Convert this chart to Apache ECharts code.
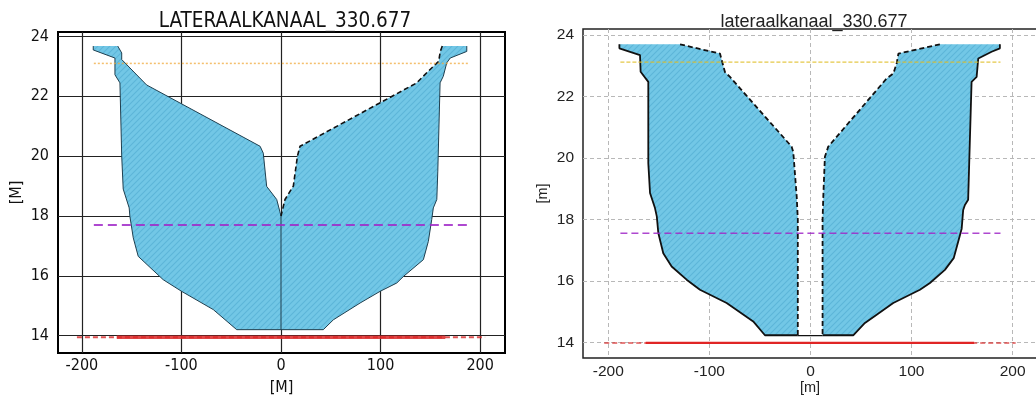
<!DOCTYPE html>
<html>
<head>
<meta charset="utf-8">
<script src="https://cdn.jsdelivr.net/npm/echarts@6/dist/echarts.min.js"></script>
<style>
  html, body { margin: 0; padding: 0; background: #fff; }
  #chart { width: 1036px; height: 398px; }
</style>
</head>
<body>
<div id="chart"></div>
<script>
// ---- left panel (A): LATERAALKANAAL, one channel that closes at x=0 ----
const aLeftOuter = [[-188.6, 23.68], [-188.6, 23.55], [-166.8, 23.28], [-166.8, 22.72], [-161.8, 22.45],
  [-160, 20.0], [-158.5, 18.9], [-152.5, 18.27], [-151.8, 17.99], [-148.4, 17.27], [-143.4, 16.65],
  [-118.3, 15.87], [-99.8, 15.48], [-68, 14.87], [-44.5, 14.2], [0, 14.2]]
const aLeftInner = [[-164, 23.68], [-160, 23.45], [-160, 23.23], [-135, 22.38], [-21, 20.33],
  [-17.8, 20.1], [-14.4, 18.99], [-4.3, 18.55], [0, 18.0], [0, 14.2]]
const aRightOuter = [[186.6, 23.68], [186.6, 23.5], [170, 23.28], [166.5, 23.12], [163, 22.67],
  [159.8, 22.45], [157.5, 19.5], [156.5, 18.55], [153, 18.27], [151.4, 17.88], [148, 17.15],
  [143, 16.54], [123, 15.98], [116.3, 15.76], [99.5, 15.48], [79.4, 15.09], [52.6, 14.53],
  [42.5, 14.2], [0, 14.2]]
const aRightInner = [[162, 23.68], [160, 23.5], [158.4, 23.17], [146.4, 22.79], [136.4, 22.45],
  [19.1, 20.33], [16.5, 20.0], [12.4, 19.0], [4, 18.55], [0, 18.0]]
const aTopLevel = 23.1, aMidLevel = 17.7, aBedLevel = 13.95
const aTopSpan = [-188, 188], aMidSpan = [-188, 188], aBedSolid = [-165, 165], aBedDash = [-205, 205]

// ---- right panel (B): lateraalkanaal, two halves with a slot in the middle ----
const bLeftOuter = [[-189, 23.7], [-189, 23.57], [-168.6, 23.35], [-168, 22.81], [-160.4, 22.48],
  [-160.4, 19.83], [-158.7, 18.86], [-153.8, 18.37], [-152, 18.1], [-150.5, 17.56], [-145.6, 16.9],
  [-137.3, 16.47], [-122.5, 16.04], [-109.3, 15.71], [-82.9, 15.28], [-56.6, 14.68], [-45, 14.23],
  [-12.5, 14.23]]
const bLeftInner = [[-129, 23.7], [-89.5, 23.4], [-84.6, 22.8], [-79.6, 22.64], [-18.6, 20.37],
  [-17, 20.2], [-13.6, 18.75], [-12.5, 18.0], [-12.5, 14.23]]
const bRightOuter = [[187.4, 23.7], [187.4, 23.57], [179.2, 23.46], [166, 23.24], [164.4, 22.64],
  [159.4, 22.48], [156, 18.64], [152.8, 18.47], [151.1, 18.31], [149.6, 17.7], [146.2, 17.28],
  [141.7, 16.74], [133, 16.36], [118.2, 15.93], [108.3, 15.71], [81.9, 15.28], [65.5, 14.9],
  [53.9, 14.63], [42.3, 14.23], [12, 14.23]]
const bRightInner = [[128, 23.7], [87, 23.4], [85.3, 23.08], [82, 22.75], [75.4, 22.59],
  [17.6, 20.37], [14.3, 20.04], [12.7, 18.74], [12, 18.0], [12, 14.23]]
const bSlotFloor = [[-12.5, 14.22], [12, 14.22]]
const bTopLevel = 23.12, bMidLevel = 17.55, bBedLevel = 13.98
const bTopSpan = [-188, 188], bMidSpan = [-188, 188], bBedSolid = [-163, 162], bBedDash = [-204, 203]

// hatch fill like matplotlib '////'
function hatch(base, stripe) {
    const c = document.createElement('canvas')
    c.width = 6; c.height = 6
    const g = c.getContext('2d')
    g.fillStyle = base
    g.fillRect(0, 0, 6, 6)
    g.strokeStyle = stripe
    g.lineWidth = 1.1
    g.beginPath()
    g.moveTo(-1, 7); g.lineTo(7, -1)
    g.moveTo(-1, 1); g.lineTo(1, -1)
    g.moveTo(5, 7); g.lineTo(7, 5)
    g.stroke()
    return c
}
const fillPattern = { image: hatch('#72c7e6', '#5db5d9'), repeat: 'repeat' }

function polygonSeries(outer, inner, gi) {
    // outer runs top -> bottom centre, inner is walked back up to close along the top
    const pts = outer.concat(inner.slice().reverse())
    return {
        type: 'custom', xAxisIndex: gi, yAxisIndex: gi, silent: true, z: 1,
        data: [[0, 0]],
        renderItem: function (params, api) {
            return {
                type: 'polygon',
                shape: { points: pts.map(function (p) { return api.coord(p) }) },
                style: { fill: fillPattern, stroke: null }
            }
        }
    }
}

// outlines and level lines go on their own layer, above the fill
function line(data, gi, color, width, type) {
    return {
        type: 'line', xAxisIndex: gi, yAxisIndex: gi, data: data, symbol: 'none', silent: true,
        zlevel: 1, lineStyle: { color: color, width: width, type: type }
    }
}
function level(span, y, gi, color, width, type) {
    return line([[span[0], y], [span[1], y]], gi, color, width, type)
}

const fontA = '"DejaVu Sans Condensed", "Roboto", sans-serif'
const fontB = '"Liberation Sans", Arial, sans-serif'

const gridA = { color: '#222', width: 1.2 }
const gridB = { color: '#b8b8b8', width: 1, type: [4, 3] }

const option = {
    animation: false,
    title: [
        { text: 'LATERAALKANAAL_330.677', left: 280, top: 6, textAlign: 'center',
          textStyle: { fontFamily: fontA, fontSize: 20.5, fontWeight: 'normal', color: '#111' } },
        { text: 'lateraalkanaal_330.677', left: 809, top: 8, textAlign: 'center',
          textStyle: { fontFamily: fontB, fontSize: 18, fontWeight: 'normal', color: '#222' } }
    ],
    grid: [
        { left: 58, top: 32, width: 447, height: 321, outerBoundsMode: 'none', containLabel: false,
          show: true, borderColor: '#000', borderWidth: 2, backgroundColor: '#fff' },
        // the right panel runs past the picture edge, as in the source image
        { left: 583, top: 29, width: 465, height: 329, outerBoundsMode: 'none', containLabel: false,
          show: true, borderColor: '#222', borderWidth: 1.5, backgroundColor: '#fff' }
    ],
    xAxis: [
        { type: 'value', gridIndex: 0, min: -224, max: 225, splitNumber: 5,
          name: '[M]', nameLocation: 'middle', nameGap: 27,
          nameTextStyle: { fontFamily: fontA, fontSize: 16, color: '#111' },
          axisLine: { show: false }, axisTick: { show: false },
          axisLabel: { fontFamily: fontA, fontSize: 16, color: '#111', margin: 5, showMinLabel: false, showMaxLabel: false },
          splitLine: { showMinLine: false, showMaxLine: false, lineStyle: gridA } },
        { type: 'value', gridIndex: 1, min: -225, max: 235, splitNumber: 5,
          name: '[m]', nameLocation: 'start', nameGap: -227, nameTextStyle: { fontFamily: fontB, fontSize: 14.5, color: '#222',
          align: 'center', verticalAlign: 'top', padding: [22, 0, 0, 0] },
          axisLine: { show: false }, axisTick: { show: false },
          axisLabel: { fontFamily: fontB, fontSize: 15.5, color: '#222', margin: 6, showMinLabel: false, showMaxLabel: false },
          splitLine: { showMinLine: false, showMaxLine: false, lineStyle: gridB } }
    ],
    yAxis: [
        { type: 'value', gridIndex: 0, min: 13.42, max: 24.15, splitNumber: 5,
          name: '[M]', nameLocation: 'middle', nameGap: 33, nameRotate: 90,
          nameTextStyle: { fontFamily: fontA, fontSize: 16, color: '#111' },
          axisLine: { show: false }, axisTick: { show: false },
          axisLabel: { fontFamily: fontA, fontSize: 16, color: '#111', margin: 9, showMinLabel: false, showMaxLabel: false },
          splitLine: { showMinLine: false, showMaxLine: false, lineStyle: gridA } },
        { type: 'value', gridIndex: 1, min: 13.49, max: 24.2, splitNumber: 5,
          name: '[m]', nameLocation: 'middle', nameGap: 33, nameRotate: 90,
          nameTextStyle: { fontFamily: fontB, fontSize: 14.5, color: '#222' },
          axisLine: { show: false }, axisTick: { show: false },
          axisLabel: { fontFamily: fontB, fontSize: 15.5, color: '#222', margin: 9, showMinLabel: false, showMaxLabel: false },
          splitLine: { showMinLine: false, showMaxLine: false, lineStyle: gridB } }
    ],
    series: [
        // left panel
        polygonSeries(aLeftOuter, aLeftInner, 0),
        polygonSeries(aRightOuter, aRightInner, 0),
        line(aLeftOuter, 0, '#1f3f4f', 1, 'solid'),
        line(aLeftInner, 0, '#1f3f4f', 1, 'solid'),
        line(aRightOuter, 0, '#1f3f4f', 1, 'solid'),
        line(aRightInner, 0, '#111', 1.6, [5, 3]),
        level(aTopSpan, aTopLevel, 0, 'rgba(240,170,60,0.75)', 1.5, [2, 2]),
        level(aMidSpan, aMidLevel, 0, 'rgba(160,40,200,0.85)', 2, [9, 5]),
        level(aBedDash, aBedLevel, 0, 'rgba(215,40,40,0.8)', 2, [5, 3]),
        level(aBedSolid, aBedLevel, 0, 'rgba(220,40,40,0.85)', 3.5, 'solid'),
        // right panel
        polygonSeries(bLeftOuter, bLeftInner, 1),
        polygonSeries(bRightOuter, bRightInner, 1),
        line(bLeftOuter, 1, '#111', 1.8, 'solid'),
        line(bRightOuter, 1, '#111', 1.8, 'solid'),
        line(bLeftInner, 1, '#111', 1.8, [5, 3]),
        line(bRightInner, 1, '#111', 1.8, [5, 3]),
        line(bSlotFloor, 1, '#111', 1.2, 'solid'),
        level(bTopSpan, bTopLevel, 1, 'rgba(225,190,40,0.85)', 1.2, [4, 2]),
        level(bMidSpan, bMidLevel, 1, 'rgba(160,40,200,0.85)', 1.6, [7, 4]),
        level(bBedDash, bBedLevel, 1, 'rgba(215,40,40,0.8)', 1.6, [5, 3]),
        level(bBedSolid, bBedLevel, 1, '#e02525', 2.2, 'solid')
    ]
}

const myChart = echarts.init(document.getElementById('chart'), null, { renderer: 'canvas' })
myChart.setOption(option, true)
</script>
</body>
</html>
